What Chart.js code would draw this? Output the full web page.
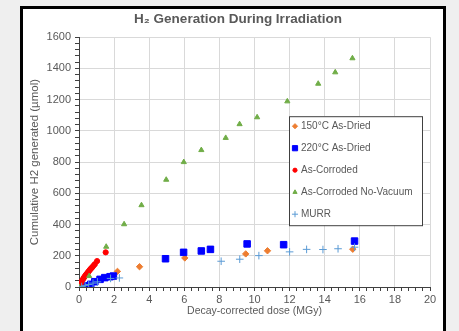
<!DOCTYPE html>
<html>
<head>
<meta charset="utf-8">
<script src="https://cdn.jsdelivr.net/npm/chart.js@4/dist/chart.umd.min.js"></script>
<style>
  html, body { margin: 0; padding: 0; background: #efefef; overflow: hidden; }
  #frame { position: absolute; left: 20px; top: 6px; width: 420px; height: 340px; border: 3px solid #000; background: #fff; }
  #wrap { position: absolute; left: 23px; top: 9px; width: 420px; height: 322px; }
</style>
</head>
<body>
<div id="frame"></div>
<div id="wrap"><canvas id="myChart" width="420" height="322"></canvas></div>
<script>
// values (dose in MGy, H2 in umol)
const seriesNames = ['150°C As-Dried', '220°C As-Dried', 'As-Corroded', 'As-Corroded No-Vacuum', 'MURR'];

const dried150X = [2.19, 3.45, 6.03, 9.5, 10.74, 15.6];
const dried150Y = [100, 130, 186, 212, 232, 242];

const dried220X = [0.1, 0.38, 0.67, 0.9, 1.2, 1.47, 1.77, 1.96, 4.93, 5.96, 6.97, 7.49, 9.58, 11.66, 15.7];
const dried220Y = [2, 8, 17, 34, 49, 60, 66, 70, 181, 222, 231, 241, 276, 271, 294];

const corrodedX = [0, 0.05, 0.1, 0.15, 0.2, 0.25, 0.3, 0.35, 0.4, 0.45, 0.5, 0.55, 0.6, 0.65, 0.7, 0.75, 0.82, 0.9, 1.03, 1.52];
const corrodedY = [0, 12, 24, 35, 45, 55, 63, 71, 79, 86, 93, 100, 107, 114, 120, 126, 136, 146, 166, 222];

const noVacX = [0, 0.58, 1.55, 2.57, 3.56, 4.97, 5.97, 6.97, 8.36, 9.15, 10.15, 11.87, 13.63, 14.6, 15.58];
const noVacY = [0, 70, 258, 402, 524, 687, 800, 877, 955, 1043, 1087, 1189, 1302, 1375, 1465];

const murrX = [0.15, 0.35, 0.55, 0.8, 1.05, 1.8, 2.3, 8.1, 9.16, 10.25, 12.0, 12.97, 13.9, 14.76, 15.7];
const murrY = [3, 10, 16, 25, 33, 55, 58, 165, 178, 201, 225, 241, 240, 245, 255];

const xMajor = 2;
const yMajor = 200;

function pts(xs, ys) {
  return xs.map((x, i) => ({ x: x, y: ys[i] }));
}
function isMajor(v, step) {
  const r = v / step;
  return Math.abs(r - Math.round(r)) < 1e-6;
}

const gray = '#595959';
const fontFam = '"Liberation Sans", Arial, sans-serif';

// legend drawn inside the plot, like the excel one
const boxLegend = {
  id: 'boxLegend',
  afterDraw(chart) {
    const ctx = chart.ctx;
    const a = chart.chartArea;
    const left = a.left + 210, top = a.top + 79, w = 133, h = 109;
    ctx.save();
    ctx.fillStyle = '#fff';
    ctx.fillRect(left, top, w, h);
    ctx.strokeStyle = '#404040';
    ctx.lineWidth = 1;
    ctx.strokeRect(left + 0.5, top + 0.5, w, h);
    ctx.font = '10px ' + fontFam;
    ctx.textBaseline = 'middle';
    chart.data.datasets.forEach((ds, i) => {
      const y = top + 10 + i * 22;
      ctx.fillStyle = ds.backgroundColor;
      ctx.strokeStyle = ds.borderColor;
      ctx.lineWidth = ds.borderWidth;
      Chart.helpers.drawPoint(ctx, {
        pointStyle: ds.pointStyle,
        radius: ds.pointRadius * 0.8,
        rotation: 0,
        borderWidth: ds.borderWidth
      }, left + 6, y);
      ctx.fillStyle = gray;
      ctx.fillText(ds.label, left + 12, y + 0.5);
    });
    ctx.restore();
  }
};

const ctx = document.getElementById('myChart').getContext('2d');
new Chart(ctx, {
  type: 'scatter',
  data: {
    datasets: [
      { label: seriesNames[0], data: pts(dried150X, dried150Y), pointStyle: 'rectRot', pointRadius: 3.2,
        backgroundColor: '#ED7D31', borderColor: '#ED7D31', borderWidth: 1, order: 5 },
      { label: seriesNames[1], data: pts(dried220X, dried220Y), pointStyle: 'rect', pointRadius: 4.6,
        backgroundColor: '#0000FF', borderColor: '#0000FF', borderWidth: 1, order: 4 },
      { label: seriesNames[2], data: pts(corrodedX, corrodedY), pointStyle: 'circle', pointRadius: 2.6,
        backgroundColor: '#FF0000', borderColor: '#FF0000', borderWidth: 1, order: 3 },
      { label: seriesNames[3], data: pts(noVacX, noVacY), pointStyle: 'triangle', pointRadius: 3,
        backgroundColor: '#70AD47', borderColor: '#70AD47', borderWidth: 1, order: 2 },
      { label: seriesNames[4], data: pts(murrX, murrY), pointStyle: 'cross', pointRadius: 3.8,
        backgroundColor: '#5B9BD5', borderColor: '#5B9BD5', borderWidth: 1, order: 1 }
    ]
  },
  options: {
    responsive: false,
    animation: false,
    layout: { padding: { left: 23, right: 13, top: 0, bottom: 0 } },
    plugins: {
      legend: { display: false },
      tooltip: { enabled: false },
      title: {
        display: true,
        text: 'H₂ Generation During Irradiation',
        color: gray,
        font: { family: fontFam, size: 13.5, weight: 'bold' },
        padding: { top: 2, bottom: 10 }
      }
    },
    scales: {
      x: {
        type: 'linear',
        min: 0,
        max: 20,
        afterFit(scale) { scale.height = 44; },
        ticks: {
          stepSize: 0.4,
          autoSkip: false,
          maxRotation: 0,
          padding: 2,
          color: gray,
          font: { family: fontFam, size: 11 },
          callback: v => isMajor(v, xMajor) ? String(Math.round(v)) : ''
        },
        grid: {
          color: c => isMajor(c.tick.value, xMajor) ? '#d9d9d9' : 'rgba(0,0,0,0)',
          tickColor: '#404040',
          tickLength: 4
        },
        border: { color: '#404040' },
        title: {
          display: true,
          text: 'Decay-corrected dose (MGy)',
          color: gray,
          font: { family: fontFam, size: 10.5 },
          padding: { top: 0, bottom: 13.7 }
        }
      },
      y: {
        min: 0,
        max: 1600,
        afterFit(scale) { scale.width = 33; },
        ticks: {
          stepSize: 40,
          autoSkip: false,
          padding: 4,
          color: gray,
          font: { family: fontFam, size: 11 },
          callback: v => isMajor(v, yMajor) ? String(v) : ''
        },
        grid: {
          color: c => isMajor(c.tick.value, yMajor) ? '#d9d9d9' : 'rgba(0,0,0,0)',
          tickColor: '#404040',
          tickLength: 4
        },
        border: { color: '#404040' },
        title: {
          display: true,
          text: 'Cumulative H2 generated (µmol)',
          color: gray,
          font: { family: fontFam, size: 11.5 },
          padding: { top: -17.9, bottom: 0 }
        }
      }
    }
  },
  plugins: [boxLegend]
});
</script>
</body>
</html>
